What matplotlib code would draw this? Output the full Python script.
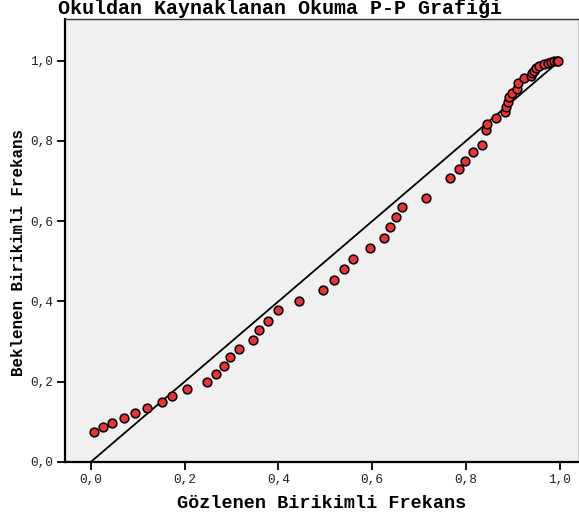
import matplotlib
matplotlib.use("Agg")
import matplotlib.pyplot as plt

# gozlenen (observed) and beklenen (expected) cumulative probabilities
gozlenen = [0.007, 0.027, 0.046, 0.070, 0.095, 0.120, 0.153, 0.173, 0.206, 0.247,
            0.267, 0.284, 0.296, 0.316, 0.345, 0.359, 0.377, 0.399, 0.445, 0.496,
            0.519, 0.539, 0.560, 0.596, 0.626, 0.639, 0.650, 0.664, 0.715, 0.767,
            0.786, 0.799, 0.815, 0.834, 0.842, 0.844, 0.864, 0.884, 0.886, 0.889,
            0.892, 0.899, 0.908, 0.910, 0.924, 0.939, 0.941, 0.946, 0.950, 0.955,
            0.967, 0.975, 0.982, 0.988, 0.994, 0.997]
beklenen = [0.076, 0.086, 0.097, 0.109, 0.121, 0.135, 0.150, 0.165, 0.183, 0.200,
            0.220, 0.239, 0.261, 0.281, 0.305, 0.329, 0.352, 0.378, 0.402, 0.428,
            0.454, 0.481, 0.506, 0.533, 0.559, 0.585, 0.610, 0.636, 0.658, 0.707,
            0.730, 0.751, 0.772, 0.790, 0.827, 0.842, 0.857, 0.872, 0.884, 0.897,
            0.909, 0.919, 0.929, 0.945, 0.957, 0.963, 0.969, 0.975, 0.982, 0.988,
            0.991, 0.994, 0.997, 0.999, 0.999, 0.999]

tick_vals = [0.0, 0.2, 0.4, 0.6, 0.8, 1.0]
tick_labels = ["0,0", "0,2", "0,4", "0,6", "0,8", "1,0"]

font = "Liberation Mono"

fig = plt.figure(figsize=(5.79, 5.17), dpi=100)
ax = fig.add_axes([65/579, 55/517, 514/579, 443/517])
ax.set_facecolor("#f0f0f0")

# reference line
ax.plot([0, 1], [0, 1], color="black", linewidth=1.3, zorder=2)
ax.plot(gozlenen, beklenen, linestyle="none", marker="o", markersize=6.3,
        markerfacecolor="#ea3339", markeredgecolor="black", markeredgewidth=1.1,
        zorder=3, clip_on=False)

ax.set_xlim(-0.0548, 1.041)
ax.set_ylim(0.0, 1.104)

ax.set_xticks(tick_vals)
ax.set_xticklabels(tick_labels, fontname=font, fontsize=9.2, color="#222222")
ax.set_yticks(tick_vals)
ax.set_yticklabels(tick_labels, fontname=font, fontsize=9.2, color="#222222")
ax.tick_params(direction="out", length=5.8, width=1.3, pad=3, colors="black",
               labelcolor="#222222")

for s in ["left", "bottom"]:
    ax.spines[s].set_linewidth(1.6)
for s in ["top", "right"]:
    ax.spines[s].set_linewidth(1.0)
    ax.spines[s].set_color("#333333")

ax.set_xlabel("Gözlenen Birikimli Frekans", fontname=font, fontweight="bold",
              fontsize=13.3)
ax.xaxis.set_label_coords(0.5, -0.074)
ax.set_ylabel("Beklenen Birikimli Frekans", fontname=font, fontweight="bold",
              fontsize=11.4)
ax.yaxis.set_label_coords(-0.0914, 0.474)
ax.yaxis.label.set_va("center")
fig.text(58/579, 1 - 8/517, "Okuldan Kaynaklanan Okuma P-P Grafiği",
         fontname=font, fontweight="bold", fontsize=14.4, ha="left", va="center")

fig.savefig("out.png", dpi=100)
